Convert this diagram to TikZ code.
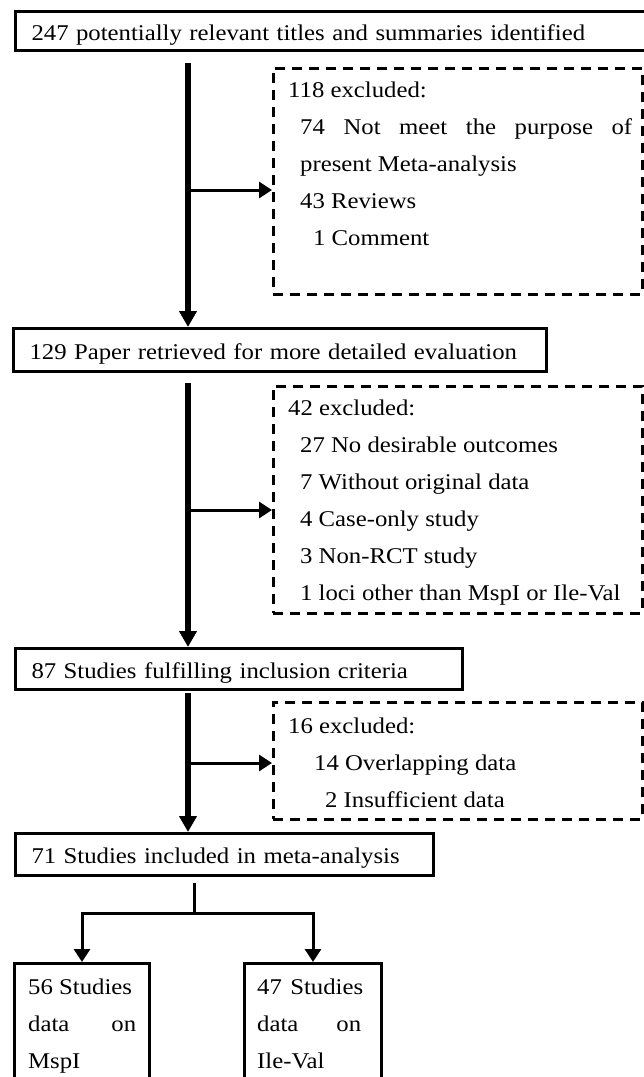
\documentclass[tikz,border=0pt]{standalone}
\usepackage{fontspec}
\setmainfont{Liberation Serif}[FakeStretch=1.1]
\usepackage{tikz}
\usetikzlibrary{arrows.meta}
\tikzset{>=latex}
\tikzset{
  stagebox/.style={draw, line width=3pt, anchor=north west, inner xsep=16pt, inner ysep=0pt, align=left, text height=18pt, text depth=0pt},
  leafbox/.style={draw, line width=3pt, anchor=north west, inner sep=0pt, minimum height=150pt},
  exclbox/.style={draw, line width=2.8pt, dash pattern=on 10pt off 7pt, anchor=north west, inner sep=0pt, minimum width=369pt},
  linetext/.style={anchor=base west, inner sep=0pt},
  mainflow/.style={line width=6pt, -{Triangle[length=16pt, width=17pt]}},
  sideflow/.style={line width=3pt, -{Triangle[length=13pt, width=16pt]}},
  branch/.style={line width=3pt},
}

\begin{document}
\begin{tikzpicture}[x=1pt, y=-1pt, font=\fontsize{22.5pt}{37pt}\selectfont]
    \useasboundingbox (0, 0) rectangle (644, 1077);
    \node[stagebox, text width=608pt, minimum height=39pt] (ident) at (14, 10) {247 potentially relevant titles and summaries identified};
    \node[stagebox, text width=501pt, minimum height=43pt] (scr) at (12, 327) {129 Paper retrieved for more detailed evaluation};
    \node[stagebox, text width=415pt, minimum height=41pt] (elig) at (14, 647) {87 Studies fulfilling inclusion criteria};
    \node[stagebox, text width=386pt, minimum height=42pt] (incl) at (14, 832) {71 Studies included in meta-analysis};
    \node[leafbox, minimum width=135pt] (msp) at (13, 962) {};
    \node[leafbox, minimum width=137pt] (ile) at (243, 962) {};

    \node[exclbox, minimum height=226pt] (excl1) at (272, 67) {};
    \node[exclbox, minimum height=227pt] (excl2) at (272, 385) {};
    \node[exclbox, minimum height=117pt] (excl3) at (272, 701) {};

    \foreach \x/\y/\t [count=\i] in {288/97/118 excluded:, 300/134/\makebox[332pt][s]{74 Not meet the purpose of}, 300/171/present Meta-analysis, 300/208/43 Reviews, 313/245/1 Comment}
        \node[linetext] (e1-\i) at (\x, \y) {\t};
    \foreach \x/\y/\t [count=\i] in {288/415/42 excluded:, 300/452/27 No desirable outcomes, 300/489/7 Without original data, 300/526/4 Case-only study, 300/563/3 Non-RCT study, 300/600/1 loci other than MspI or Ile-Val}
        \node[linetext] (e2-\i) at (\x, \y) {\t};
    \foreach \x/\y/\t [count=\i] in {288/733/16 excluded:, 314/770/14 Overlapping data, 325/807/2 Insufficient data}
        \node[linetext] (e3-\i) at (\x, \y) {\t};
    \foreach \x/\y/\t [count=\i] in {28/994/56 Studies, 28/1031/\makebox[108pt][s]{data on}, 28/1068/MspI}
        \node[linetext] (m-\i) at (\x, \y) {\t};
    \foreach \x/\y/\t [count=\i] in {257/994/\makebox[106pt][s]{47 Studies}, 257/1031/\makebox[104pt][s]{data on}, 257/1068/Ile-Val}
        \node[linetext] (v-\i) at (\x, \y) {\t};

    \coordinate (s1) at (188, 63);
    \coordinate (s2) at (188, 383);
    \coordinate (s3) at (188, 693);
    \draw[mainflow] (s1) -- (s1 |- scr.north);
    \draw[mainflow] (s2) -- (s2 |- elig.north);
    \draw[mainflow] (s3) -- (s3 |- incl.north);

    \coordinate (h1) at (188, 190);
    \coordinate (h2) at (188, 510);
    \coordinate (h3) at (188, 763);
    \draw[sideflow] (h1) -- (h1 -| excl1.west);
    \draw[sideflow] (h2) -- (h2 -| excl2.west);
    \draw[sideflow] (h3) -- (h3 -| excl3.west);

    \coordinate (stem) at (194, 883);
    \coordinate (split) at (194, 913);
    \draw[branch] (stem) -- (split);
    \draw[branch, -{Triangle[length=13pt, width=16pt]}] (split) -| (msp.north);
    \draw[branch, -{Triangle[length=13pt, width=16pt]}] (split) -| (ile.north);
\end{tikzpicture}
\end{document}
